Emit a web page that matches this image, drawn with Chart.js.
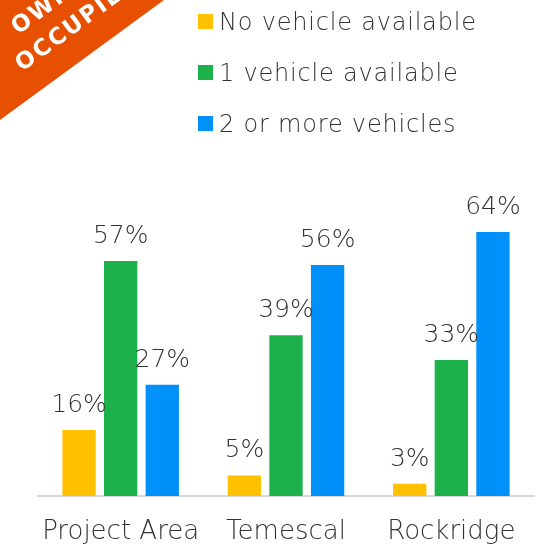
<!DOCTYPE html>
<html>
<head>
<meta charset="utf-8">
<script src="https://cdn.jsdelivr.net/npm/chart.js@4/dist/chart.umd.min.js"></script>
<style>
  html, body { margin: 0; padding: 0; background: #fff; }
  #wrap { position: relative; width: 538px; height: 547px; }
</style>
</head>
<body>
<div id="wrap"><canvas id="c" width="538" height="547"></canvas></div>
<script>
const categories = ['Project Area', 'Temescal', 'Rockridge'];
const seriesNames = ['No vehicle available', '1 vehicle available', '2 or more vehicles'];
const noVehicle = [16, 5, 3];
const oneVehicle = [57, 39, 33];
const twoPlus = [27, 56, 64];
const bannerLines = ['OWNER', 'OCCUPIED'];

const colors = ['#FFC000', '#1DB14B', '#0090FA'];
const FONT = '"DejaVu Sans", sans-serif';
const TEXT = '#333333';

const labelPlugin = {
  id: 'valueLabels',
  afterDatasetsDraw(chart) {
    const ctx = chart.ctx;
    ctx.save();
    ctx.font = '200 25px ' + FONT;
    ctx.fillStyle = TEXT;
    ctx.textAlign = 'center';
    ctx.textBaseline = 'alphabetic';
    chart.data.datasets.forEach((ds, i) => {
      const meta = chart.getDatasetMeta(i);
      meta.data.forEach((bar, j) => {
        ctx.fillText(ds.data[j] + '%', bar.x, bar.y - 18);
      });
    });
    ctx.restore();
  }
};

const legendPlugin = {
  id: 'customLegend',
  afterDraw(chart) {
    const ctx = chart.ctx;
    ctx.save();
    ctx.font = '200 24px ' + FONT;
    if ('letterSpacing' in ctx) ctx.letterSpacing = '0.8px';
    ctx.textBaseline = 'alphabetic';
    ctx.textAlign = 'left';
    seriesNames.forEach((name, i) => {
      const y = 14 + i * 51;
      ctx.fillStyle = colors[i];
      ctx.fillRect(198, y, 15, 15);
      ctx.fillStyle = TEXT;
      ctx.fillText(name, 219, y + 16);
    });
    ctx.restore();
  }
};

const bannerPlugin = {
  id: 'banner',
  afterDraw(chart) {
    const ctx = chart.ctx;
    ctx.save();
    ctx.beginPath();
    ctx.moveTo(0, 0);
    ctx.lineTo(164, 0);
    ctx.lineTo(0, 120);
    ctx.closePath();
    ctx.fillStyle = '#E65000';
    ctx.fill();
    ctx.clip();
    const ang = -Math.atan2(120, 164);
    ctx.fillStyle = '#ffffff';
    ctx.font = 'bold 23px ' + FONT;
    if ('letterSpacing' in ctx) ctx.letterSpacing = '2px';
    ctx.textBaseline = 'alphabetic';
    ctx.textAlign = 'left';
    const starts = [[18, 35], [22, 72]];
    bannerLines.forEach((t, i) => {
      ctx.save();
      ctx.translate(starts[i][0], starts[i][1]);
      ctx.rotate(ang);
      ctx.fillText(t, 0, 0);
      ctx.restore();
    });
    ctx.restore();
  }
};

new Chart(document.getElementById('c'), {
  type: 'bar',
  data: {
    labels: categories,
    datasets: [
      { label: seriesNames[0], data: noVehicle, backgroundColor: colors[0] },
      { label: seriesNames[1], data: oneVehicle, backgroundColor: colors[1] },
      { label: seriesNames[2], data: twoPlus, backgroundColor: colors[2] }
    ]
  },
  options: {
    responsive: false,
    animation: false,
    layout: { padding: { top: 166, left: 38, right: 4, bottom: 0 } },
    datasets: { bar: { categoryPercentage: 0.755, barPercentage: 0.8 } },
    plugins: { legend: { display: false }, tooltip: { enabled: false } },
    scales: {
      y: { display: false, min: 0, max: 80 },
      x: {
        afterFit(scale) { scale.height = 51; },
        grid: { display: false, drawTicks: false },
        border: { display: true, color: '#D9D9D9', width: 2 },
        ticks: { color: TEXT, font: { family: FONT, size: 26, weight: 200, lineHeight: 1.2 }, padding: 21 }
      }
    }
  },
  plugins: [labelPlugin, legendPlugin, bannerPlugin]
});
</script>
</body>
</html>
